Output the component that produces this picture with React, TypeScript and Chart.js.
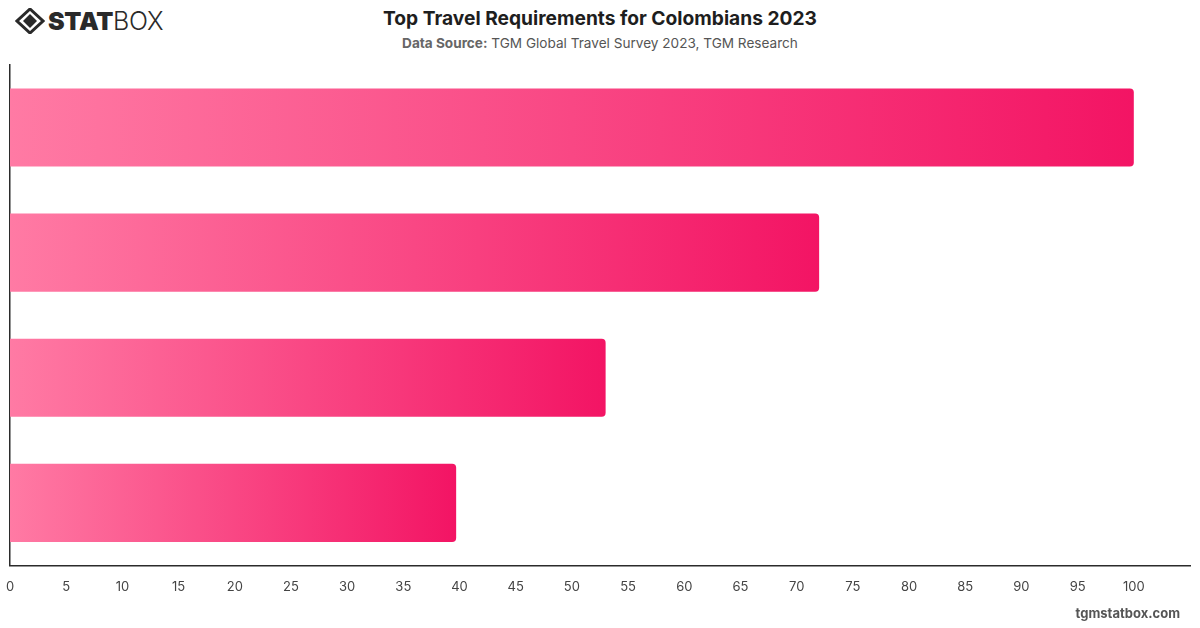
import React, { useEffect, useRef } from "react";
import { Chart, registerables } from "chart.js";

Chart.register(...registerables);

const categories = ["Requirement 1", "Requirement 2", "Requirement 3", "Requirement 4"];
const values = [100, 72, 53, 39.7];
const tickValues = [0, 5, 10, 15, 20, 25, 30, 35, 40, 45, 50, 55, 60, 65, 70, 75, 80, 85, 90, 95, 100];

const FONT = "Inter, 'Noto Sans', sans-serif";

function Logo() {
  return (
    <div style={{ position: "absolute", left: 15, top: 8, height: 26, display: "flex", alignItems: "center" }}>
      <svg width="30" height="26" viewBox="0 0 30 26">
        <path d="M15 1 L28 13 L15 25 L2 13 Z" fill="none" stroke="#2a2a2a" strokeWidth="3" />
        <path d="M15 6 L22 13 L15 20 L8 13 Z" fill="#2a2a2a" />
      </svg>
      <span style={{ fontFamily: FONT, fontWeight: 900, fontSize: 25, color: "#2a2a2a", marginLeft: 3, letterSpacing: -0.3 }}>STAT</span>
      <span style={{ fontFamily: FONT, fontWeight: 300, fontSize: 25, color: "#2a2a2a", letterSpacing: -0.3 }}>BOX</span>
    </div>
  );
}

export default function App() {
  const ref = useRef<HTMLCanvasElement | null>(null);
  useEffect(() => {
    if (!ref.current) return;
    const chart = new Chart(ref.current, {
      type: "bar",
      data: {
        labels: categories,
        datasets: [
          {
            data: values,
            backgroundColor: (ctx: any) => {
              const c = ctx.chart;
              if (!c.chartArea || ctx.raw == null) return "#f7447f";
              const xs = c.scales.x;
              const x0 = xs.getPixelForValue(0);
              const x1 = xs.getPixelForValue(ctx.raw);
              const g = c.ctx.createLinearGradient(x0, 0, x1 > x0 ? x1 : x0 + 1, 0);
              g.addColorStop(0, "#ff7aa4");
              g.addColorStop(1, "#f31464");
              return g;
            },
            borderRadius: 4,
            borderSkipped: "start",
            barPercentage: 0.78,
            categoryPercentage: 0.8,
          },
        ],
      },
      options: {
        indexAxis: "y",
        animation: false,
        responsive: false,
        maintainAspectRatio: false,
        layout: { padding: { left: 10, right: 10, top: 5, bottom: 0 } },
        plugins: { legend: { display: false }, tooltip: { enabled: false }, title: { display: false } },
        scales: {
          x: {
            min: 0,
            max: 105,
            grid: { display: false, drawTicks: false },
            border: { display: true, color: "#2b2b2b", width: 1.5 },
            afterBuildTicks: (axis: any) => {
              axis.ticks = tickValues.map((v) => ({ value: v }));
            },
            afterFit: (axis: any) => {
              axis.paddingLeft = 0;
              axis.paddingRight = 0;
            },
            ticks: {
              color: "#444",
              font: { family: FONT, size: 13 },
              padding: 14,
              maxRotation: 0,
              autoSkip: false,
            },
          },
          y: {
            grid: { display: false, drawTicks: false },
            border: { display: true, color: "#2b2b2b", width: 1.5 },
            ticks: { display: false, padding: 0 },
            afterFit: (axis: any) => {
              axis.width = 0;
            },
          },
        },
      },
    });
    return () => chart.destroy();
  }, []);

  return (
    <div style={{ position: "absolute", left: 0, top: 0, width: 1200, height: 628, background: "#fff", overflow: "hidden" }}>
      <Logo />
      <div style={{ position: "absolute", left: 0, width: 1200, top: 6, textAlign: "center", fontFamily: FONT, fontWeight: 700, fontSize: 19.2, color: "#1e1e1e" }}>
        Top Travel Requirements for Colombians 2023
      </div>
      <div style={{ position: "absolute", left: 0, width: 1200, top: 35, textAlign: "center", fontFamily: FONT, fontSize: 13.6, color: "#555" }}>
        <span style={{ fontWeight: 700, color: "#666" }}>Data Source:</span> TGM Global Travel Survey 2023, TGM Research
      </div>
      <canvas ref={ref} width={1200} height={549} style={{ position: "absolute", left: 0, top: 60, width: 1200, height: 549 }} />
      <div style={{ position: "absolute", right: 20, top: 605, fontFamily: FONT, fontWeight: 700, fontSize: 13, color: "#555" }}>
        tgmstatbox.com
      </div>
    </div>
  );
}
